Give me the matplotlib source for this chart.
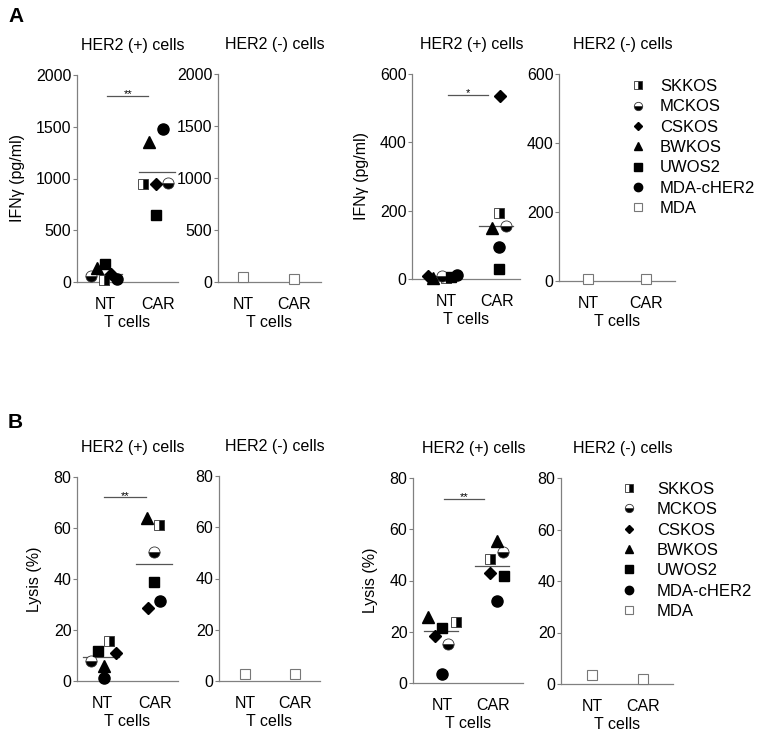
import numpy as np
import matplotlib.pyplot as plt
from matplotlib.lines import Line2D

plt.rcParams['font.family'] = ['Liberation Sans', 'DejaVu Sans']
plt.rcParams['font.size'] = 11.5

# cell lines, same order in every array below
cell_lines = ['SKKOS', 'MCKOS', 'CSKOS', 'BWKOS', 'UWOS2', 'MDA-cHER2']
groups = ['NT', 'CAR']

# A, left: IFNg (pg/ml)
ifn_left_nt = [20, 58, 77, 138, 171, 26]
ifn_left_car = [950, 960, 945, 1355, 647, 1478]
ifn_left_mean = [75, 1060]
ifn_left_mda = [51, 26]
ifn_left_p = '**'

# A, right
ifn_right_nt = [3, 10, 8, 3, 6, 12]
ifn_right_car = [193, 156, 535, 149, 29, 93]
ifn_right_mean = [8, 154]
ifn_right_mda = [5, 5]
ifn_right_p = '*'

# B, left: lysis (%)
lysis_left_nt = [15.8, 8, 10.9, 6, 11.9, 1]
lysis_left_car = [61.2, 50.7, 28.5, 63.8, 38.7, 31.4]
lysis_left_mean = [9.3, 45.9]
lysis_left_mda = [2.8, 2.8]
lysis_left_p = '**'

# B, right
lysis_right_nt = [23.7, 15.3, 18.5, 25.6, 21.6, 3.5]
lysis_right_car = [48.4, 51.1, 42.9, 55.5, 41.8, 32.1]
lysis_right_mean = [20.3, 45.7]
lysis_right_mda = [3.5, 1.8]
lysis_right_p = '**'

# horizontal scatter of the dots inside each group (x units)
jit_ifn_left_nt = [-0.02, -0.27, 0.11, -0.16, 0.0, 0.23]
jit_ifn_left_car = [-0.28, 0.19, -0.04, -0.17, -0.04, 0.09]
jit_ifn_right_nt = [0.0, -0.08, -0.35, -0.25, 0.1, 0.21]
jit_ifn_right_car = [0.04, 0.18, 0.06, -0.1, 0.04, 0.04]
jit_lysis_left_nt = [0.14, -0.21, 0.26, 0.04, -0.08, 0.04]
jit_lysis_left_car = [0.08, -0.03, -0.14, -0.16, -0.03, 0.09]
jit_lysis_right_nt = [0.27, 0.12, -0.14, -0.27, 0.0, 0.0]
jit_lysis_right_car = [-0.06, 0.2, -0.06, 0.07, 0.22, 0.07]

# marker styles
styles = {
    'SKKOS': dict(marker='s', ms=7, fillstyle='right', mfc='black', mfcalt='white', mec='#333333', mew=0.6),
    'MCKOS': dict(marker='o', ms=8, fillstyle='bottom', mfc='black', mfcalt='white', mec='#333333', mew=0.6),
    'CSKOS': dict(marker='D', ms=6, color='black'),
    'BWKOS': dict(marker='^', ms=8, color='black'),
    'UWOS2': dict(marker='s', ms=7, color='black'),
    'MDA-cHER2': dict(marker='o', ms=8, color='black'),
    'MDA': dict(marker='s', ms=7, mfc='white', mec='#777777', mew=0.8),
}

W, H = 761, 741
fig = plt.figure(figsize=(W / 100, H / 100), dpi=100)
gray = '#808080'


def make_axes(left, right, top, bottom):
    return fig.add_axes([left / W, 1 - bottom / H, (right - left) / W, (bottom - top) / H])


def style_axes(ax, ymax, step, xlim, title, ylabel=None):
    ax.set_xlim(xlim)
    ax.set_ylim(0, ymax)
    ax.set_yticks(np.arange(0, ymax + 1, step))
    ax.set_xticks([0, 1])
    ax.set_xticklabels(groups)
    ax.tick_params(axis='x', length=0, pad=11)
    ax.tick_params(axis='y', length=3, width=0.8, color=gray, pad=1)
    for s in ['top', 'right']:
        ax.spines[s].set_visible(False)
    for s in ['left', 'bottom']:
        ax.spines[s].set_color(gray)
        ax.spines[s].set_linewidth(0.9)
    ax.set_xlabel('T cells', labelpad=2)
    if ylabel:
        ax.set_ylabel(ylabel, labelpad=8)
    ax.annotate(title, (0.5, 1), xycoords='axes fraction', xytext=(4, 21),
                textcoords='offset points', ha='center', va='center')


def pos_panel(ax, nt, car, jit_nt, jit_car, means, p):
    for i, name in enumerate(cell_lines):
        ax.plot([0 + jit_nt[i], 1 + jit_car[i]], [nt[i], car[i]], ls='none',
                clip_on=False, zorder=3, **styles[name])
    for g in range(2):
        ax.plot([g - 0.36, g + 0.32], [means[g], means[g]], color='#555555', lw=0.9)
    top = ax.get_ylim()[1] * 0.9
    ax.plot([0.03, 0.82], [top, top], color='#555555', lw=0.9)
    ax.annotate(p, (0.43, top), xytext=(0, -1), textcoords='offset points',
                ha='center', va='baseline', fontsize=8)


def neg_panel(ax, mda):
    ax.plot([0, 1], mda, ls='none', clip_on=False, zorder=3, **styles['MDA'])


def add_legend(ax, x, y, pad):
    handles = []
    for name in cell_lines + ['MDA']:
        st = dict(styles[name])
        st['ms'] = st['ms'] * 0.75
        handles.append(Line2D([], [], ls='none', **st))
    ax.legend(handles, cell_lines + ['MDA'], loc='upper left', fontsize=12,
              bbox_to_anchor=(x / W, 1 - y / H), bbox_transform=fig.transFigure,
              frameon=False, borderpad=0, borderaxespad=0, handlelength=1,
              handletextpad=pad, labelspacing=0.32)


ifn_label = 'IFN\u03b3 (pg/ml)'

# row A
ax = make_axes(77, 178, 75, 282)
style_axes(ax, 2000, 500, (-0.53, 1.38), 'HER2 (+) cells', ifn_label)
pos_panel(ax, ifn_left_nt, ifn_left_car, jit_ifn_left_nt, jit_ifn_left_car, ifn_left_mean, ifn_left_p)

ax = make_axes(218, 321, 74, 282)
style_axes(ax, 2000, 500, (-0.49, 1.53), 'HER2 (-) cells')
neg_panel(ax, ifn_left_mda)

ax = make_axes(412, 520, 74, 279)
style_axes(ax, 600, 200, (-0.67, 1.45), 'HER2 (+) cells', ifn_label)
pos_panel(ax, ifn_right_nt, ifn_right_car, jit_ifn_right_nt, jit_ifn_right_car, ifn_right_mean, ifn_right_p)

ax = make_axes(559, 675, 74, 281)
style_axes(ax, 600, 200, (-0.5, 1.5), 'HER2 (-) cells')
neg_panel(ax, ifn_right_mda)
add_legend(ax, 630, 79, 0.8)

# row B
ax = make_axes(77, 178, 477, 681)
style_axes(ax, 80, 20, (-0.47, 1.43), 'HER2 (+) cells', 'Lysis (%)')
pos_panel(ax, lysis_left_nt, lysis_left_car, jit_lysis_left_nt, jit_lysis_left_car, lysis_left_mean, lysis_left_p)

ax = make_axes(219, 320, 476, 681)
style_axes(ax, 80, 20, (-0.52, 1.5), 'HER2 (-) cells')
neg_panel(ax, lysis_left_mda)

ax = make_axes(413, 523, 478, 683)
style_axes(ax, 80, 20, (-0.57, 1.59), 'HER2 (+) cells', 'Lysis (%)')
pos_panel(ax, lysis_right_nt, lysis_right_car, jit_lysis_right_nt, jit_lysis_right_car, lysis_right_mean, lysis_right_p)

ax = make_axes(561, 673, 478, 684)
style_axes(ax, 80, 20, (-0.61, 1.59), 'HER2 (-) cells')
neg_panel(ax, lysis_right_mda)
add_legend(ax, 621, 482, 1.15)

fig.text(8 / W, 1 - 17 / H, 'A', fontsize=15, fontweight='bold', va='center')
fig.text(8 / W, 1 - 423 / H, 'B', fontsize=15, fontweight='bold', va='center')

fig.savefig('out.png', dpi=100)
